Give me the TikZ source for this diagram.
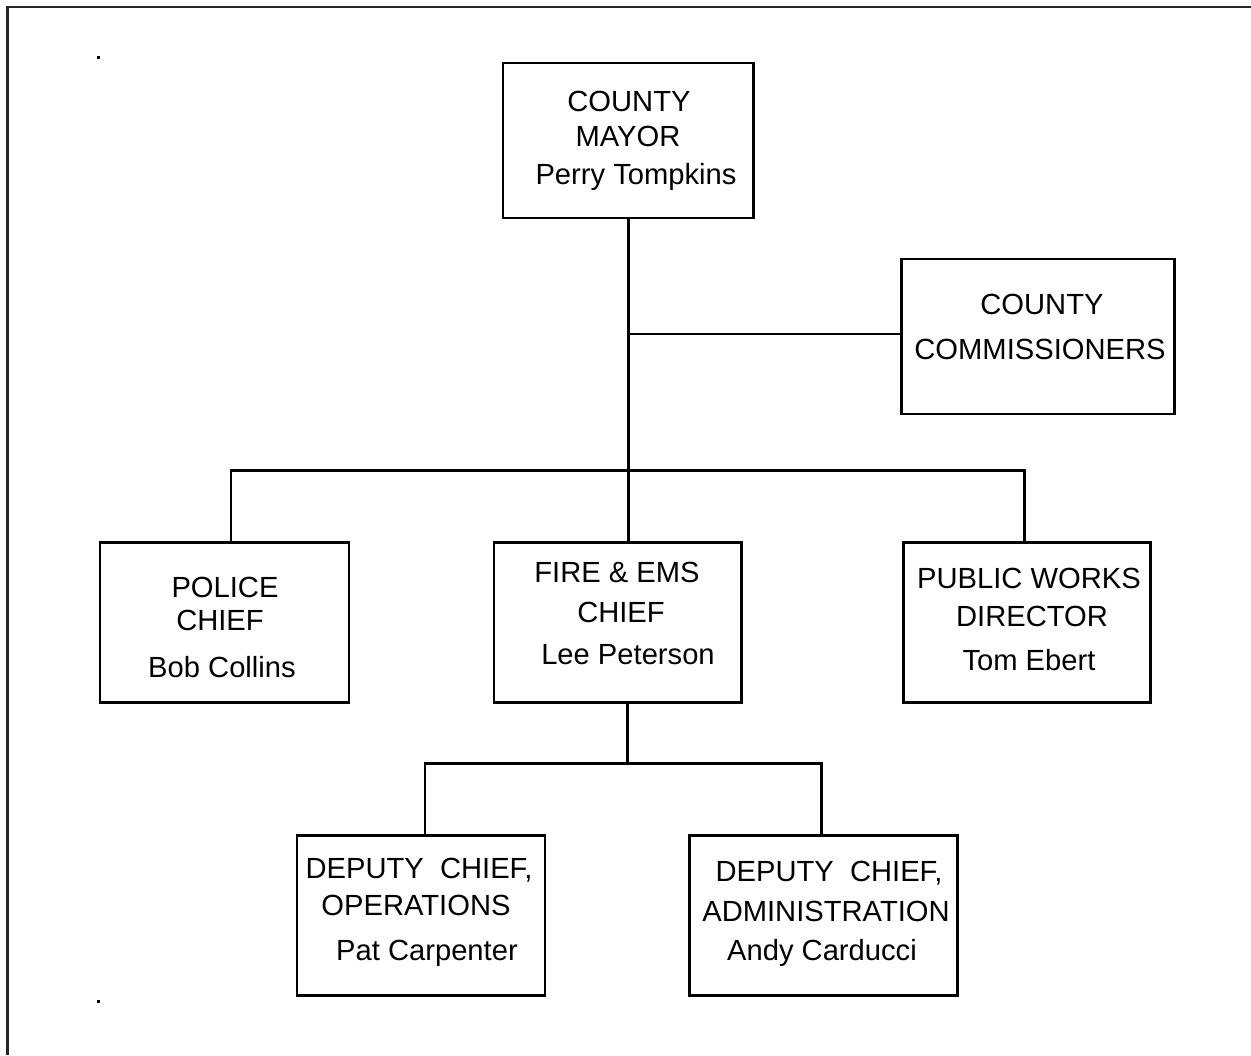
\documentclass[tikz,border=0pt]{standalone}
\usepackage{fontspec}
\setmainfont{Liberation Sans}
\begin{document}
\begin{tikzpicture}[x=0.02cm,y=-0.02cm,
  box/.style={draw=black,line width=1.7pt,fill=white,inner sep=0pt},
  txt/.style={inner sep=0pt,font=\fontsize{16.6}{19}\selectfont,anchor=center},
  conn/.style={line width=1.7pt}]
\useasboundingbox (0,0) rectangle (1251,1055);
% page frame (top and left edges only)
\draw[line width=1.7pt,black!85] (7.5,1055) -- (7.5,7) -- (1251,7);
% tiny marks
\fill (96.5,55.5) rectangle (99.5,58.5);
\fill (96.5,999.5) rectangle (99.5,1002.5);
% boxes
\node[box,minimum width=250*0.02cm,minimum height=155*0.02cm] (mayor) at (628,140.5) {};
\node[box,minimum width=273*0.02cm,minimum height=155*0.02cm] (comm) at (1037.5,336.5) {};
\node[box,minimum width=249*0.02cm,minimum height=160*0.02cm] (police) at (224.5,622) {};
\node[box,minimum width=247*0.02cm,minimum height=160*0.02cm] (fire) at (617.5,622) {};
\node[box,minimum width=247*0.02cm,minimum height=160*0.02cm] (pw) at (1026.5,622) {};
\node[box,minimum width=248*0.02cm,minimum height=160*0.02cm] (ops) at (421,915) {};
\node[box,minimum width=268*0.02cm,minimum height=160*0.02cm] (adm) at (823,915) {};
% junction coordinates
\coordinate (jc) at (628,334);
\coordinate (jm) at (628,470);
\coordinate (jl) at (231,470);
\coordinate (jr) at (1024,470);
\coordinate (jf) at (627,763);
\coordinate (jfl) at (425,763);
\coordinate (jfr) at (821,763);
% connectors
\draw[conn] (mayor.south -| jc) -- (jc) -- (jm) -- (fire.north -| jm);
\draw[conn] (jc) -- (comm.west |- jc);
\draw[conn] (police.north -| jl) -- (jl) -- (jr) -- (pw.north -| jr);
\draw[conn] (fire.south -| jf) -- (jf);
\draw[conn] (ops.north -| jfl) -- (jfl) -- (jfr) -- (adm.north -| jfr);
% texts
\node[txt] (t1) at (629,101) {COUNTY};
\node[txt] (t2) at (628,136) {MAYOR};
\node[txt] (t3) at (636,177) {Perry Tompkins};
\node[txt] (t4) at (1042,304) {COUNTY};
\node[txt] (t5) at (1040,349) {COMMISSIONERS};
\node[txt] (t6) at (225,587) {POLICE};
\node[txt] (t7) at (220,620) {CHIEF};
\node[txt] (t8) at (222,667) {Bob Collins};
\node[txt] (t9) at (617,572) {FIRE \& EMS};
\node[txt] (t10) at (621,612) {CHIEF};
\node[txt] (t11) at (628,655) {Lee Peterson};
\node[txt] (t12) at (1029,578) {PUBLIC WORKS};
\node[txt] (t13) at (1032,616) {DIRECTOR};
\node[txt] (t14) at (1029,660) {Tom Ebert};
\node[txt] (t15) at (419,870) {DEPUTY\ \ CHIEF,};
\node[txt] (t16) at (416,905) {OPERATIONS};
\node[txt] (t17) at (427,953) {Pat Carpenter};
\node[txt] (t18) at (829,873) {DEPUTY\ \ CHIEF,};
\node[txt] (t19) at (826,911) {ADMINISTRATION};
\node[txt] (t20) at (822,953) {Andy Carducci};
\end{tikzpicture}
\end{document}
